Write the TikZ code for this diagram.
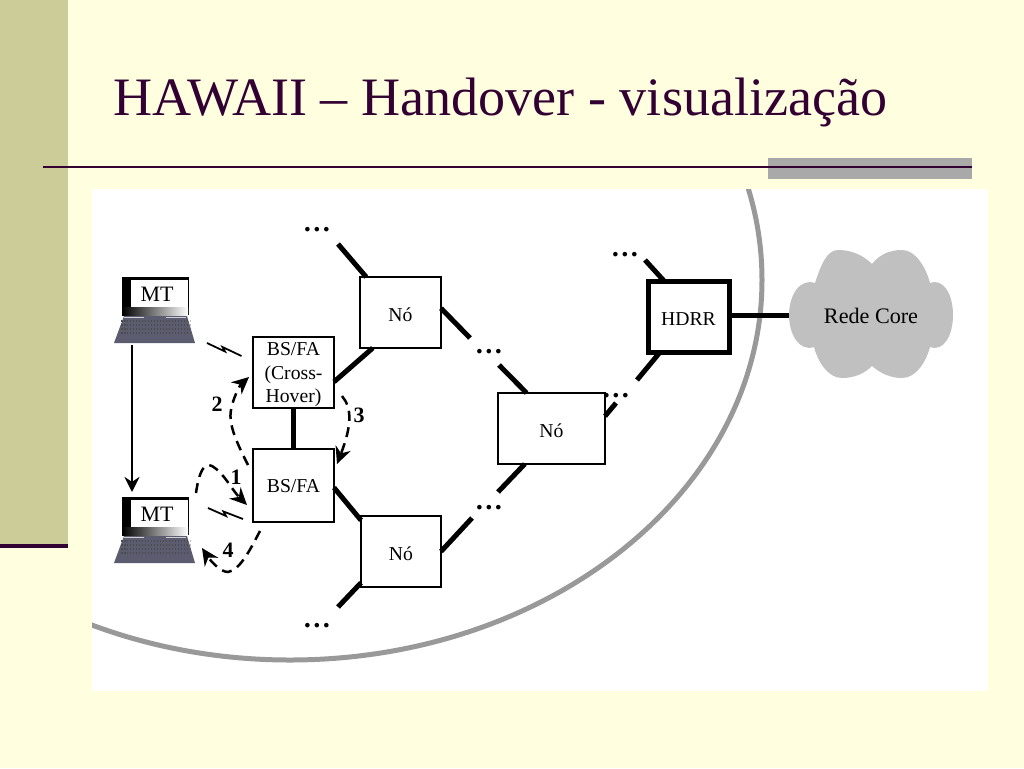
\documentclass[tikz,border=0pt]{standalone}
\usepackage{fontspec}
\setmainfont{Liberation Serif}
\usetikzlibrary{arrows.meta}
\definecolor{fundo}{HTML}{FFFFE0}
\definecolor{faixa}{HTML}{CCCC99}
\definecolor{roxo}{HTML}{330033}
\definecolor{cinza}{HTML}{A9A9A9}
\definecolor{arco}{HTML}{999999}
\definecolor{nuvem}{HTML}{C0C0C0}
\definecolor{teclado}{HTML}{5C5C70}
\tikzset{
    caixa/.style={draw, fill=white, line width=0.025cm, inner sep=0pt, outer sep=0pt, align=center,
        font=\fontsize{11.2}{13.6}\selectfont},
    ligacao/.style={line width=0.1cm},
    tracejada/.style={line width=0.05cm, dash pattern=on 0.2cm off 0.13cm, -{Stealth[length=0.34cm, width=0.32cm]}},
    pontos/.style={font=\fontsize{16}{16}\selectfont\bfseries, inner sep=0pt},
    numero/.style={font=\fontsize{12.5}{14}\selectfont\bfseries, inner sep=0pt},
    raio/.style={draw=black, line width=0.035cm},
    laptop/.pic={
        \fill[black] (0,0) rectangle (67,38);
        \shade[left color=black, right color=white] (0,30) rectangle (66,38);
        \fill[white] (9,3) rectangle (66,30);
        \fill[teclado] (2,39) -- (65,39) -- (73,66) -- (-8,66) -- cycle;
        \foreach \k in {44,48,52,56}
            \draw[black!70, line width=0.04cm, dash pattern=on 0.03cm off 0.03cm] (-1,\k) -- (68,\k);
        \fill[white!70!teclado] (2,40) rectangle (22,41);
        \fill[white!70!teclado] (44,40) rectangle (64,41);
    },
}
\begin{document}
\begin{tikzpicture}[x=0.02cm, y=-0.02cm]
    \useasboundingbox (0,0) rectangle (1024,768);

    % Fundo do slide
    \fill[fundo] (0,0) rectangle (1024,768);
    \fill[faixa] (0,0) rectangle (68,546);
    \draw[roxo, line width=0.08cm] (0,546) -- (68,546);
    \fill[cinza] (768,158) rectangle (972,179);
    \draw[roxo, line width=0.04cm] (43,167) -- (972,167);
    \node[anchor=base west, inner sep=0pt, text=roxo, font=\fontsize{30.8}{33}\selectfont] (titulo) at (113,115) {HAWAII – Handover - visualização};
    \fill[white] (92,189) rectangle (988,691);

    % Arco do dominio
    \begin{scope}
        \clip (92,189) rectangle (988,691);
        \draw[arco, line width=0.1cm] (290,280) ellipse [x radius=472, y radius=380];
    \end{scope}

    % Nuvem
    \fill[nuvem] (872,264) .. controls (862,254) and (850,250) .. (838,250)
        .. controls (826,250) and (820,268) .. (815,283)
        .. controls (800,278) and (789,295) .. (789,315)
        .. controls (789,335) and (800,352) .. (814,347)
        .. controls (818,362) and (828,378) .. (842,378)
        .. controls (855,378) and (865,373) .. (872,366)
        .. controls (880,373) and (890,378) .. (902,378)
        .. controls (916,378) and (926,362) .. (930,347)
        .. controls (944,352) and (953,335) .. (953,315)
        .. controls (953,295) and (944,278) .. (930,283)
        .. controls (926,268) and (916,250) .. (902,250)
        .. controls (890,250) and (880,254) .. (872,264) -- cycle;
    \node[minimum width=3.3cm, inner sep=0pt, outer sep=0pt, font=\fontsize{12.6}{14}\selectfont] (core) at (871,316) {Rede Core};

    % Nos
    \node[caixa, text height=9.9pt, minimum width=1.62cm, minimum height=1.42cm] (no1) at (400.5,312.5) {Nó};
    \node[caixa, text height=9.9pt, minimum width=2.14cm, minimum height=1.42cm] (no2) at (551.5,428.5) {Nó};
    \node[caixa, text height=9.9pt, minimum width=1.60cm, minimum height=1.42cm] (no3) at (401,551.5) {Nó};
    \node[caixa, text depth=0pt, minimum width=1.62cm, minimum height=1.42cm] (bsx) at (293.5,372.5) {BS/FA\\(Cross-\\Hover)};
    \node[caixa, text height=8.5pt, minimum width=1.62cm, minimum height=1.46cm] (bsf) at (293.5,485.5) {BS/FA};
    \node[caixa, text height=10.2pt, minimum width=1.62cm, minimum height=1.42cm, line width=0.1cm] (hdrr) at (688.5,317) {HDRR};

    % Reticencias
    \node[pontos] (p1) at (317,230) {…};
    \node[pontos] (p2) at (489,352) {…};
    \node[pontos] (p3) at (625,255) {…};
    \node[pontos] (p4) at (616,396) {…};
    \node[pontos] (p5) at (489,508) {…};
    \node[pontos] (p6) at (317,626) {…};

    % Pontas livres
    \coordinate (l1) at (338,244);
    \coordinate (l2) at (470,338);
    \coordinate (l3) at (499,365);
    \coordinate (l4) at (645,260);
    \coordinate (l5) at (498,492);
    \coordinate (l6) at (472,518);
    \coordinate (l7) at (338,607);
    \coordinate (l8) at (616,403);
    \coordinate (l9) at (637,380);

    % Ligacoes
    \draw[ligacao] (l1) -- (no1.134);
    \draw[ligacao] (no1.-128) -- (bsx.-13);
    \draw[ligacao] (no1.6) -- (l2);
    \draw[ligacao] (l3) -- (no2.125);
    \draw[ligacao] (no2.-127) -- (l5);
    \draw[ligacao] (no2.13) -- (l8);
    \draw[ligacao] (l9) -- (hdrr.-129);
    \draw[ligacao] (l4) -- (hdrr.124);
    \draw[ligacao] (l6) -- (no3.0);
    \draw[ligacao] (no3.-142) -- (l7);
    \draw[ligacao] (bsf.-3) -- (no3.142);
    \draw[ligacao] (bsx) -- (bsf);
    \draw[ligacao] (hdrr.east |- 0,315) -- (core.west |- 0,315);

    % Terminais
    \pic at (122,277) {laptop};
    \pic at (122,497) {laptop};
    \node[inner sep=0pt, font=\fontsize{12.5}{14}\selectfont] (mta) at (157,294) {MT};
    \node[inner sep=0pt, font=\fontsize{12.5}{14}\selectfont] (mtb) at (157,514) {MT};
    \coordinate (mtabase) at (132,345);
    \coordinate (mtbtopo) at (132,492);
    \draw[line width=0.05cm, -{Stealth[length=0.3cm, width=0.3cm]}] (mtabase) -- (mtbtopo);

    % Raios
    \draw[raio] (207,343) -- (225,351.5) -- (222.5,347) -- (241.5,356);
    \draw[raio] (208,508) -- (226,516) -- (223.5,511.5) -- (243,519);

    % Passos do handover
    \draw[tracejada] (196,493) .. controls (199,472) and (204,462) .. (212,466) .. controls (224,473) and (232,490) .. (247,505);
    \draw[tracejada] (248,465) .. controls (238,445) and (228,425) .. (231,410) .. controls (233,398) and (240,385) .. (249,377);
    \draw[tracejada] (342,396) .. controls (352,408) and (352,425) .. (337,464);
    \draw[tracejada] (260,531) .. controls (250,550) and (240,570) .. (228,572) .. controls (220,572) and (210,560) .. (202,548);
    \node[numero] (n1) at (236,477) {1};
    \node[numero] (n2) at (217,404) {2};
    \node[numero] (n3) at (359,415) {3};
    \node[numero] (n4) at (228,550) {4};
\end{tikzpicture}
\end{document}
